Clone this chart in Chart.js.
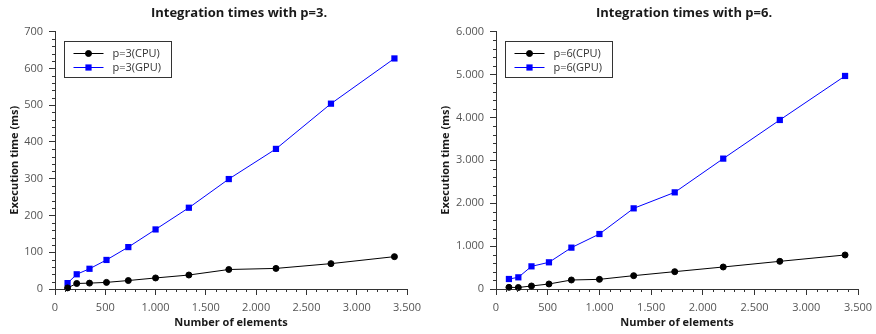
<!DOCTYPE html>
<html>
<head>
<meta charset="utf-8">
<script src="https://cdn.jsdelivr.net/npm/chart.js@4/dist/chart.umd.min.js"></script>
<style>
  html, body { margin: 0; padding: 0; background: #fff; overflow: hidden; }
  #wrap { position: relative; width: 876px; height: 334px; overflow: hidden; }
  canvas { position: absolute; top: 0; }
</style>
</head>
<body>
<div id="wrap">
  <canvas id="chartP3" width="478" height="334" style="left:0px"></canvas>
  <canvas id="chartP6" width="508" height="334" style="left:430px"></canvas>
</div>
<script>
// number of elements (x) and execution times in ms
const elements = [125, 216, 343, 512, 729, 1000, 1331, 1728, 2197, 2744, 3375];
const cpuP3 = [3, 15, 16, 18, 23, 30, 38, 53, 56, 69, 88];
const gpuP3 = [16, 40, 55, 79, 114, 162, 221, 299, 381, 504, 627];
const cpuP6 = [39, 35, 70, 117, 210, 225, 311, 404, 513, 645, 793];
const gpuP6 = [233, 272, 528, 622, 964, 1282, 1880, 2253, 3039, 3940, 4966];

const fontFamily = '"Open Sans", "DejaVu Sans", sans-serif';
const axisColor = '#333';

const fmt = v => String(v).replace(/\B(?=(\d{3})+(?!\d))/g, '.');
const toPoints = ys => ys.map((y, i) => ({ x: elements[i], y: y }));

// minor ticks + framed legend inside the plot
const decorPlugin = {
    id: 'decor',
    afterDraw(chart, args, opts) {
        const ctx = chart.ctx;
        const xs = chart.scales.x;
        const ys = chart.scales.y;
        ctx.save();
        ctx.strokeStyle = axisColor;
        ctx.lineWidth = 1;
        ctx.beginPath();
        for (let v = xs.min; v <= xs.max; v += opts.xMinor) {
            if (v % opts.xMajor === 0) continue;
            const px = Math.round(xs.getPixelForValue(v)) + 0.5;
            ctx.moveTo(px, ys.bottom);
            ctx.lineTo(px, ys.bottom + 3);
        }
        for (let v = ys.min; v <= ys.max; v += opts.yMinor) {
            if (v % opts.yMajor === 0) continue;
            const py = Math.round(ys.getPixelForValue(v)) + 0.5;
            ctx.moveTo(xs.left, py);
            ctx.lineTo(xs.left - 3, py);
        }
        ctx.stroke();

        // legend
        const ca = chart.chartArea;
        const bx = Math.round(ca.left + 9) + 0.5;
        const by = Math.round(ca.top + 9) + 0.5;
        ctx.fillStyle = '#fff';
        ctx.fillRect(bx, by, 107, 36);
        ctx.strokeStyle = axisColor;
        ctx.strokeRect(bx, by, 107, 36);
        ctx.font = '11px ' + fontFamily;
        ctx.textBaseline = 'middle';
        chart.data.datasets.forEach((ds, i) => {
            const ry = Math.round(by + 11.5 + i * 13.7);
            ctx.strokeStyle = ds.borderColor;
            ctx.beginPath();
            ctx.moveTo(bx + 9, ry + 0.5);
            ctx.lineTo(bx + 39, ry + 0.5);
            ctx.stroke();
            ctx.fillStyle = ds.pointBackgroundColor;
            ctx.strokeStyle = ds.pointBorderColor;
            Chart.helpers.drawPoint(ctx, {
                pointStyle: ds.pointStyle,
                radius: ds.pointRadius,
                borderWidth: ds.pointBorderWidth,
                rotation: 0
            }, bx + 24, ry + 0.5);
            ctx.fillStyle = '#333';
            ctx.fillText(ds.label, bx + 48, ry + 1);
        });
        ctx.restore();
    }
};

const makeChart = (id, p, cpu, gpu, yMax, yStep, yMinor, yWidth, rightSpace, yTitlePad) => {
    const ctx = document.getElementById(id).getContext('2d');
    return new Chart(ctx, {
        type: 'line',
        data: {
            datasets: [{
                label: 'p=' + p + '(CPU)',
                data: toPoints(cpu),
                borderColor: '#000',
                borderWidth: 1,
                pointStyle: 'circle',
                pointRadius: 3,
                pointBackgroundColor: '#000',
                pointBorderColor: '#000',
                pointBorderWidth: 1,
                tension: 0,
                clip: false
            }, {
                label: 'p=' + p + '(GPU)',
                data: toPoints(gpu),
                borderColor: '#0000ff',
                borderWidth: 1,
                pointStyle: 'rect',
                pointRadius: 4.4,
                pointBackgroundColor: '#0000ff',
                pointBorderColor: '#0000ff',
                pointBorderWidth: 0,
                tension: 0,
                clip: false
            }]
        },
        options: {
            responsive: false,
            animation: false,
            layout: { padding: 0 },
            plugins: {
                legend: { display: false },
                tooltip: { enabled: false },
                title: {
                    display: true,
                    text: 'Integration times with p=' + p + '.',
                    color: '#1a1a1a',
                    font: { family: fontFamily, size: 13, weight: 'bold' },
                    padding: { top: 5, bottom: 11 }
                },
                decor: { xMajor: 500, xMinor: 100, yMajor: yStep, yMinor: yMinor }
            },
            scales: {
                x: {
                    type: 'linear',
                    min: 0,
                    max: 3500,
                    afterFit: s => { s.height = 45; },
                    border: { color: axisColor, width: 1 },
                    grid: { drawOnChartArea: false, drawTicks: true, tickLength: 6, color: axisColor },
                    ticks: {
                        stepSize: 500,
                        padding: 6,
                        maxRotation: 0,
                        color: '#555',
                        font: { family: fontFamily, size: 11 },
                        callback: v => fmt(v)
                    },
                    title: {
                        display: true,
                        text: 'Number of elements',
                        color: '#1a1a1a',
                        font: { family: fontFamily, size: 11, weight: 'bold' },
                        padding: { top: 0, bottom: 5 }
                    }
                },
                y: {
                    min: 0,
                    max: yMax,
                    afterFit: s => { s.width = yWidth; },
                    border: { color: axisColor, width: 1 },
                    grid: { drawOnChartArea: false, drawTicks: true, tickLength: 6, color: axisColor },
                    ticks: {
                        stepSize: yStep,
                        padding: 6,
                        color: '#555',
                        font: { family: fontFamily, size: 11 },
                        callback: v => fmt(v)
                    },
                    title: {
                        display: true,
                        text: 'Execution time (ms)',
                        color: '#1a1a1a',
                        font: { family: fontFamily, size: 11, weight: 'bold' },
                        padding: { top: yTitlePad, bottom: 0 }
                    }
                },
                // empty right-hand spacer so the title stays centred on the whole canvas
                spacer: {
                    position: 'right',
                    display: true,
                    afterFit: s => { s.width = rightSpace; },
                    border: { display: false },
                    grid: { display: false },
                    ticks: { display: false }
                }
            }
        },
        plugins: [decorPlugin]
    });
};

makeChart('chartP3', 3, cpuP3, gpuP3, 700, 100, 20, 55, 71, 8);
makeChart('chartP6', 6, cpuP6, gpuP6, 6000, 1000, 200, 66, 80, 9);
</script>
</body>
</html>
